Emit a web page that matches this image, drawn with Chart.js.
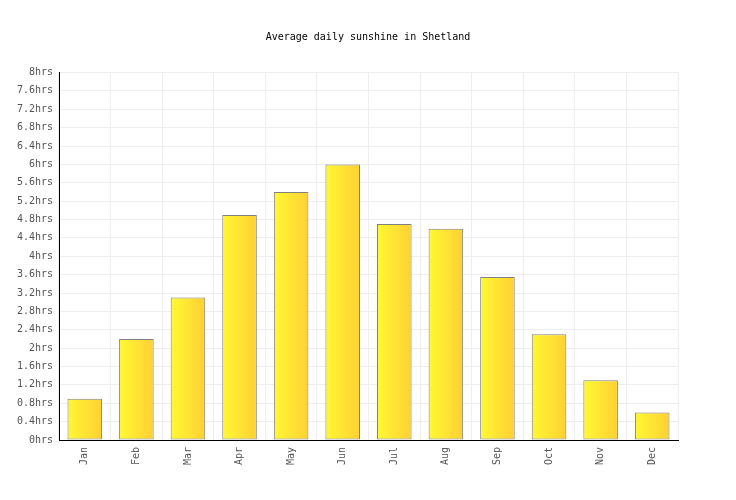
<!DOCTYPE html>
<html>
<head>
<meta charset="utf-8">
<script src="https://cdn.jsdelivr.net/npm/chart.js@4"></script>
<style>
  html, body { margin: 0; padding: 0; background: #fff; }
  #wrap { width: 736px; height: 500px; }
</style>
</head>
<body>
<div id="wrap"><canvas id="sunChart"></canvas></div>
<script>
// data
const months = ["Jan","Feb","Mar","Apr","May","Jun","Jul","Aug","Sep","Oct","Nov","Dec"];
const sunHours = [0.9, 2.2, 3.1, 4.9, 5.4, 6.0, 4.7, 4.6, 3.55, 2.3, 1.3, 0.6];
const yTicks = [0,0.4,0.8,1.2,1.6,2,2.4,2.8,3.2,3.6,4,4.4,4.8,5.2,5.6,6,6.4,6.8,7.2,7.6,8];
const titleText = "Average daily sunshine in Shetland";

const FONT = { family: "'DejaVu Sans Mono', monospace", size: 10 };
const BAR_PCT = 0.67;

// horizontal yellow -> orange gradient for each bar
function barFill(c) {
  const chart = c.chart;
  if (!chart.chartArea) return "#ffe033";
  const xs = chart.scales.x;
  const x = xs.getPixelForValue(c.dataIndex);
  const w = (xs.width / months.length) * BAR_PCT;
  const g = chart.ctx.createLinearGradient(x - w / 2, 0, x + w / 2, 0);
  g.addColorStop(0, "#fff833");
  g.addColorStop(1, "#ffd033");
  return g;
}

// title centred on the whole canvas, not on the padded box
const canvasTitle = {
  id: "canvasTitle",
  afterDraw(chart) {
    const ctx = chart.ctx;
    ctx.save();
    ctx.font = "10px " + FONT.family;
    ctx.fillStyle = "#000";
    ctx.textAlign = "center";
    ctx.textBaseline = "middle";
    ctx.fillText(titleText, chart.width / 2, 37);
    ctx.restore();
  }
};

new Chart(document.getElementById("sunChart"), {
  type: "bar",
  data: {
    labels: months,
    datasets: [{
      data: sunHours,
      backgroundColor: barFill,
      borderColor: "#808080",
      borderWidth: 1,
      borderSkipped: false,
      barPercentage: BAR_PCT,
      categoryPercentage: 1
    }]
  },
  plugins: [canvasTitle],
  options: {
    responsive: true,
    maintainAspectRatio: false,
    animation: false,
    layout: { padding: { top: 72.5, right: 58, bottom: 0, left: 0 } },
    plugins: {
      legend: { display: false },
      tooltip: { enabled: false },
      title: { display: false }
    },
    scales: {
      x: {
        grid: { color: "#eeeeee", drawTicks: false, offset: true },
        border: { color: "#000", width: 1 },
        ticks: {
          color: "#555",
          font: FONT,
          minRotation: 90,
          maxRotation: 90,
          padding: 7
        },
        afterFit: (s) => { s.height = 60; }
      },
      y: {
        min: 0,
        max: 8,
        grid: { color: "#eeeeee", drawTicks: false },
        border: { color: "#000", width: 1 },
        ticks: {
          color: "#555",
          font: FONT,
          padding: 6,
          autoSkip: false,
          callback: (v) => (+v.toFixed(1)) + "hrs"
        },
        afterBuildTicks: (s) => { s.ticks = yTicks.map(v => ({ value: v })); },
        afterFit: (s) => { s.width = 59; }
      }
    }
  }
});
</script>
</body>
</html>
